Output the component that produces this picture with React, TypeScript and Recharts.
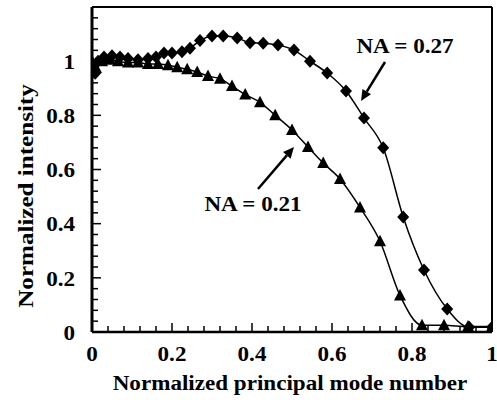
import { Label, Line, LineChart, ReferenceDot, ReferenceLine, XAxis, YAxis } from "recharts";

// NA = 0.27 (diamonds)
const NA27_X = [
  0, 0.008, 0.015, 0.03, 0.05, 0.07, 0.09, 0.115, 0.14, 0.16, 0.18, 0.2, 0.225, 0.245, 0.27,
  0.3, 0.328, 0.363, 0.395, 0.428, 0.465, 0.505, 0.545, 0.588, 0.635, 0.68, 0.728, 0.778,
  0.83, 0.888, 0.943, 1.0,
];
const NA27_Y = [
  0.985, 0.955, 1.0, 1.015, 1.02, 1.015, 1.01, 1.005, 1.01, 1.015, 1.03, 1.03, 1.035, 1.048,
  1.076, 1.093, 1.093, 1.086, 1.068, 1.066, 1.06, 1.041, 1.0, 0.956, 0.89, 0.79, 0.68, 0.425,
  0.229, 0.085, 0.018, 0.018,
];

// NA = 0.21 (triangles)
const NA21_X = [
  0, 0.01, 0.025, 0.045, 0.065, 0.09, 0.115, 0.14, 0.165, 0.19, 0.213, 0.238, 0.263, 0.29,
  0.32, 0.35, 0.383, 0.42, 0.458, 0.5, 0.54, 0.578, 0.62, 0.67, 0.72, 0.77, 0.825, 0.88,
  0.94, 1.0,
];
const NA21_Y = [
  1.0, 0.975, 1.0, 1.005, 1.0, 0.995, 0.995, 0.99, 0.99, 0.985, 0.978, 0.97, 0.96, 0.945,
  0.935, 0.908, 0.877, 0.848, 0.8, 0.746, 0.683, 0.624, 0.565, 0.46, 0.335, 0.135, 0.025,
  0.025, 0.02, 0.02,
];

const X_TICKS = [
  0, 0.04, 0.08, 0.12, 0.16, 0.2, 0.24, 0.28, 0.32, 0.36, 0.4, 0.44, 0.48, 0.52, 0.56, 0.6,
  0.64, 0.68, 0.72, 0.76, 0.8, 0.84, 0.88, 0.92, 0.96, 1,
];
const Y_TICKS = [
  0, 0.04, 0.08, 0.12, 0.16, 0.2, 0.24, 0.28, 0.32, 0.36, 0.4, 0.44, 0.48, 0.52, 0.56, 0.6,
  0.64, 0.68, 0.72, 0.76, 0.8, 0.84, 0.88, 0.92, 0.96, 1, 1.04, 1.08, 1.12, 1.16, 1.2,
];
const X_LABELS = [0, 0.2, 0.4, 0.6, 0.8, 1];
const Y_LABELS = [0, 0.2, 0.4, 0.6, 0.8, 1];

const na27 = NA27_X.map((x, i) => ({ x, y: NA27_Y[i] }));
const na21 = NA21_X.map((x, i) => ({ x, y: NA21_Y[i] }));

const textProps = { fontFamily: "Liberation Serif", fontWeight: 700, fontSize: 22, fill: "#000" };

// bold Times in the original is a little wider than Liberation Serif, so stretch it
function SText({ x, y, sx = 1.05, rotate = 0, anchor = "middle", children }: any) {
  return (
    <text
      x={0}
      y={0}
      dy="0.35em"
      textAnchor={anchor}
      transform={`translate(${x} ${y}) rotate(${rotate}) scale(${sx} 1)`}
      {...textProps}
    >
      {children}
    </text>
  );
}

function labelFor(v: number, labels: number[]): string | null {
  const hit = labels.find((l) => Math.abs(l - v) < 1e-6);
  return hit === undefined ? null : String(hit);
}

function XTick({ x, y, payload }: any) {
  const label = labelFor(payload.value, X_LABELS);
  return (
    <g>
      <line x1={x} x2={x} y1={y} y2={y - (label ? 9 : 6)} stroke="#000" strokeWidth={1.5} />
      {label && (
        <SText x={x} y={y + 21}>
          {label}
        </SText>
      )}
    </g>
  );
}

function YTick({ x, y, payload }: any) {
  const label = labelFor(payload.value, Y_LABELS);
  return (
    <g>
      <line x1={x} x2={x + (label ? 9 : 6)} y1={y} y2={y} stroke="#000" strokeWidth={1.5} />
      {label && (
        <SText x={x - 17} y={y} anchor="end">
          {label}
        </SText>
      )}
    </g>
  );
}

function Diamond({ cx, cy }: any) {
  return <path d={`M${cx},${cy - 6.5}L${cx + 6},${cy}L${cx},${cy + 6.5}L${cx - 6},${cy}Z`} fill="#000" />;
}

function Triangle({ cx, cy }: any) {
  return <path d={`M${cx},${cy - 6.5}L${cx + 6},${cy + 5}L${cx - 6},${cy + 5}Z`} fill="#000" />;
}

function Arrow({ x1, y1, x2, y2 }: any) {
  const ang = Math.atan2(y2 - y1, x2 - x1);
  const len = 11;
  const w = 5;
  const bx = x2 - len * Math.cos(ang);
  const by = y2 - len * Math.sin(ang);
  const px = -Math.sin(ang) * w;
  const py = Math.cos(ang) * w;
  return (
    <g>
      <line x1={x1} y1={y1} x2={bx} y2={by} stroke="#000" strokeWidth={2.5} />
      <path d={`M${x2},${y2}L${bx + px},${by + py}L${bx - px},${by - py}Z`} fill="#000" />
    </g>
  );
}

export default function App() {
  return (
    <div style={{ position: "absolute", left: 0, top: 0, background: "#fff" }}>
      <LineChart width={497} height={400} margin={{ top: 7, right: 5, bottom: 0, left: 0 }}>
        <XAxis
          dataKey="x"
          type="number"
          domain={[0, 1]}
          ticks={X_TICKS}
          interval={0}
          height={68}
          tickSize={0}
          tickMargin={0}
          tickLine={false}
          tick={<XTick />}
          axisLine={{ stroke: "#000", strokeWidth: 2.5 }}
          allowDataOverflow
        >
          <Label
            content={({ viewBox }: any) => (
              <SText x={viewBox.x + viewBox.width / 2 - 2} y={viewBox.y + 50}>
                Normalized principal mode number
              </SText>
            )}
          />
        </XAxis>
        <YAxis
          type="number"
          domain={[0, 1.2]}
          ticks={Y_TICKS}
          interval={0}
          width={92}
          tickSize={0}
          tickMargin={0}
          tickLine={false}
          tick={<YTick />}
          axisLine={{ stroke: "#000", strokeWidth: 3 }}
          allowDataOverflow
        >
          <Label
            content={() => (
              <SText x={25} y={196} rotate={-90} sx={1.14}>
                Normalized intensity
              </SText>
            )}
          />
        </YAxis>
        <ReferenceLine y={1.2} stroke="#000" strokeWidth={2} />
        <ReferenceLine x={1} stroke="#000" strokeWidth={2} />
        <Line
          data={na27}
          dataKey="y"
          type="monotone"
          stroke="#000"
          strokeWidth={1.5}
          dot={(p: any) => <Diamond key={`d${p.index}`} cx={p.cx} cy={p.cy} />}
          activeDot={false}
          isAnimationActive={false}
        />
        <Line
          data={na21}
          dataKey="y"
          type="monotone"
          stroke="#000"
          strokeWidth={1.5}
          dot={(p: any) => <Triangle key={`t${p.index}`} cx={p.cx} cy={p.cy} />}
          activeDot={false}
          isAnimationActive={false}
        />
        <ReferenceLine
          segment={[
            { x: 0.7325, y: 0.997 },
            { x: 0.6725, y: 0.853 },
          ]}
          shape={(p: any) => <Arrow {...p} />}
        />
        <ReferenceLine
          segment={[
            { x: 0.415, y: 0.528 },
            { x: 0.505, y: 0.683 },
          ]}
          shape={(p: any) => <Arrow {...p} />}
        />
        <ReferenceDot
          x={0.7825}
          y={1.06}
          r={0}
          shape={(p: any) => <SText x={p.cx} y={p.cy}>NA = 0.27</SText>}
        />
        <ReferenceDot
          x={0.4025}
          y={0.476}
          r={0}
          shape={(p: any) => <SText x={p.cx} y={p.cy}>NA = 0.21</SText>}
        />
      </LineChart>
    </div>
  );
}
